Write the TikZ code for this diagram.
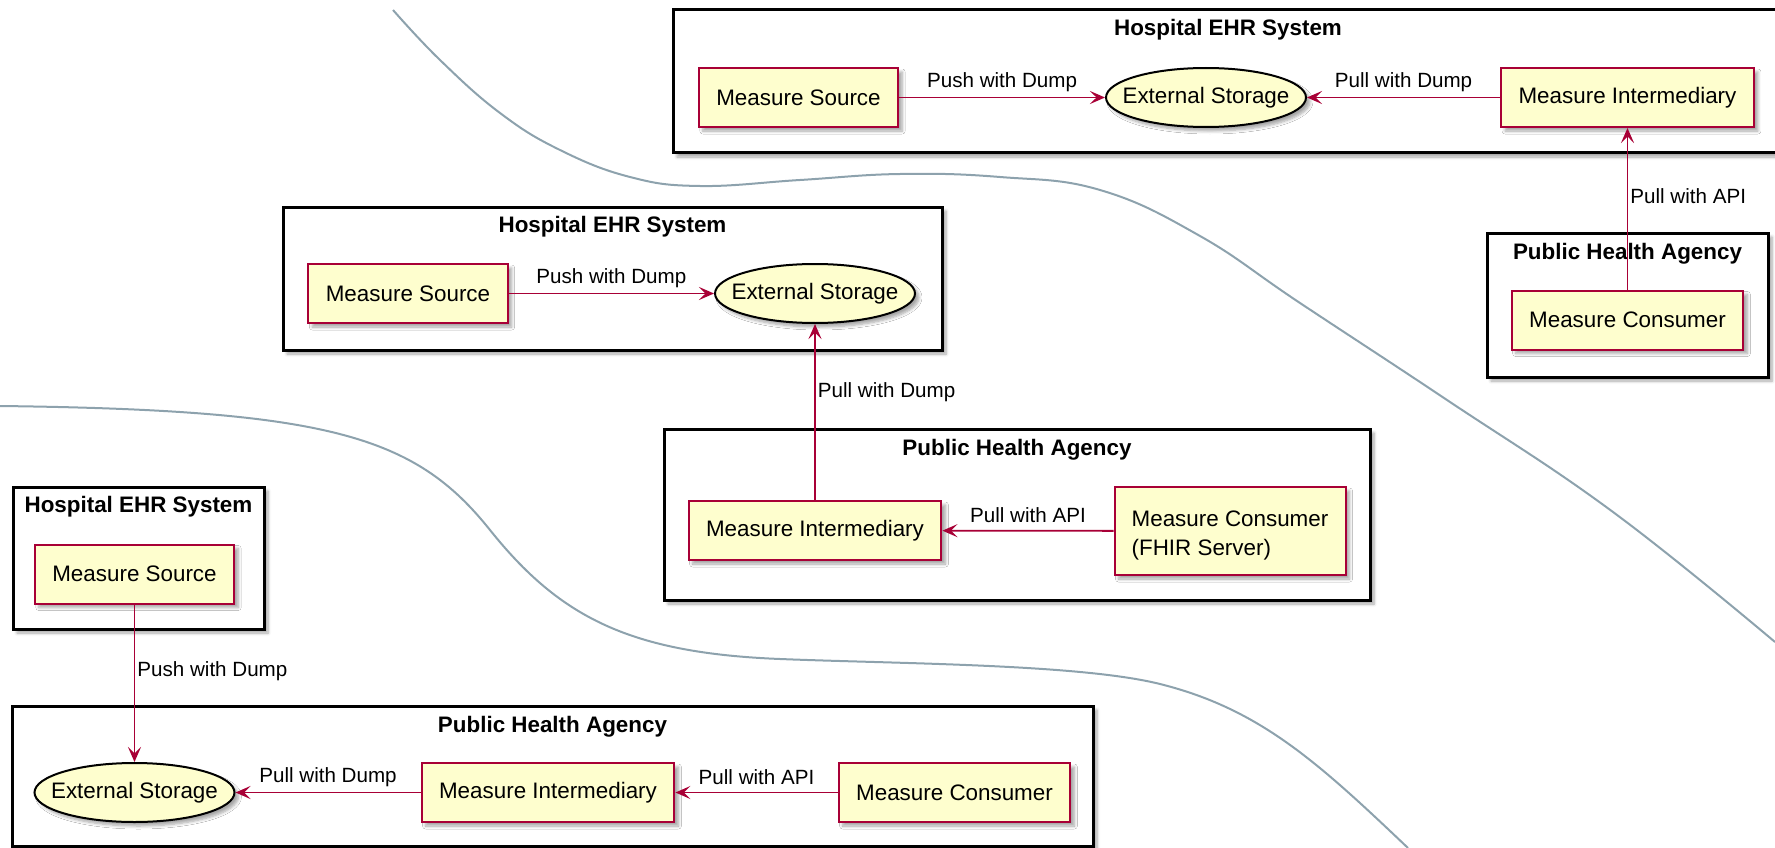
\documentclass[tikz,border=0pt]{standalone}
\usepackage{fontspec}
\setmainfont{Liberation Sans}
\usetikzlibrary{shapes.geometric,shadows,shadows.blur,arrows.meta}
\definecolor{pred}{HTML}{A80036}
\definecolor{pfill}{HTML}{FEFECE}
\definecolor{sepcol}{HTML}{8DA2AD}
\tikzset{
  shad/.style={blur shadow={shadow xshift=4pt, shadow yshift=-4pt, shadow blur steps=6, shadow blur radius=3pt, shadow opacity=35}},
  comp/.style={rectangle, draw=pred, fill=pfill, line width=2pt, minimum height=59pt,
    inner xsep=17.5pt, inner ysep=0pt, text=black, font=\fontsize{22.4}{29}\selectfont, shad},
  stor/.style={ellipse, draw=black, fill=pfill, line width=2pt, minimum width=200pt,
    minimum height=59pt, inner sep=0pt, font=\fontsize{22.4}{29}\selectfont, shad},
  pkg/.style={rectangle, draw=black, fill=white, line width=3pt, inner sep=0pt, shad},
  ftitle/.style={font=\bfseries\fontsize{22.4}{27}\selectfont, inner sep=0pt},
  ctext/.style={font=\fontsize{22.4}{29}\selectfont, inner sep=0pt, align=left, text=black},
  arr/.style={draw=pred, line width=1.8pt, -{Stealth[length=15pt,width=13pt,inset=6.5pt]}},
  lab/.style={font=\fontsize{20.6}{25}\selectfont, inner sep=0pt, text=black},
  divider/.style={draw=sepcol, line width=2pt},
}
\begin{document}
\begin{tikzpicture}[x=1pt,y=-1pt]
\useasboundingbox (0,0) rectangle (1775,848);
% separator curves
\draw[divider] plot[smooth, tension=0.7] coordinates {(393,10) (440,60) (500,113) (560,150) (630,177) (700,186) (800,180) (900,174) (1000,177) (1100,190) (1200,236) (1300,303) (1447,400) (1613,512) (1775,642)};
\draw[divider] (0,406) .. controls (330,410) and (415,436) .. (490,530)
  .. controls (560,617.5) and (630,653) .. (780,659)
  .. controls (900,663.8) and (1080,664) .. (1160,684)
  .. controls (1260,709) and (1318,762.5) .. (1408,848);

% frames
\node[pkg, minimum width=1110pt, minimum height=143pt] (f1) at (1228,81.5) {};
\node[pkg, minimum width=281pt, minimum height=144pt] (f2) at (1627.5,305) {};
\node[pkg, minimum width=659pt, minimum height=143pt] (f3) at (612.5,278.5) {};
\node[pkg, minimum width=706pt, minimum height=171pt] (f4) at (1017,514.5) {};
\node[pkg, minimum width=251pt, minimum height=142pt] (f5) at (138.5,558) {};
\node[pkg, minimum width=1081pt, minimum height=140pt] (f6) at (552.5,776) {};

\node[ftitle] (t1) at ([yshift=-21.5pt]f1.north) {Hospital EHR System};
\node[ftitle] (t2) at ([yshift=-22pt]f2.north) {Public Health Agency};
\node[ftitle] (t3) at ([yshift=-21.5pt]f3.north) {Hospital EHR System};
\node[ftitle] (t4) at ([yshift=-22pt]f4.north) {Public Health Agency};
\node[ftitle] (t5) at ([yshift=-21.5pt]f5.north) {Hospital EHR System};
\node[ftitle] (t6) at ([yshift=-22pt]f6.north) {Public Health Agency};

% top scenario
\node[comp] (ms1) at (798.5,97.5) {Measure Source};
\node[stor] (es1) at (1206,97.5) {\makebox[0pt]{External Storage}};
\node[comp] (mi1) at (1627.5,97.5) {Measure Intermediary};
\node[comp] (mc1) at (1627.5,320) {Measure Consumer};

% middle scenario
\node[comp] (ms2) at (408,293.5) {Measure Source};
\node[stor] (es2) at (815,293.5) {\makebox[0pt]{External Storage}};
\node[comp] (mi2) at (815,530.5) {Measure Intermediary};
\node[comp, minimum width=231pt, minimum height=88pt] (mc2) at (1230,531) {};
\node[ctext] (mc2t) at ([yshift=-4pt]mc2.center) {Measure Consumer\\(FHIR Server)};

% bottom scenario
\node[comp] (ms3) at (134.5,574) {Measure Source};
\node[stor] (es3) at (134.5,792.5) {\makebox[0pt]{External Storage}};
\node[comp] (mi3) at (548,792.5) {Measure Intermediary};
\node[comp] (mc3) at (954.5,792.5) {Measure Consumer};

% connectors
\draw[arr] (ms1) -- (es1) node[lab, midway, yshift=15.5pt] {Push with Dump};
\draw[arr] (mi1) -- (es1) node[lab, midway, yshift=15.5pt] {Pull with Dump};
\draw[arr] (mc1) -- (mi1) node[lab, pos=0.58, anchor=west, xshift=2pt] {Pull with API};

\draw[arr] (ms2) -- (es2) node[lab, midway, yshift=15.5pt] {Push with Dump};
\draw[arr] (mi2) -- (es2) node[lab, pos=0.61, anchor=west, xshift=2pt] {Pull with Dump};
\draw[arr] (mc2) -- (mi2) node[lab, midway, yshift=15.5pt] {Pull with API};

\draw[arr] (ms3) -- (es3) node[lab, pos=0.425, anchor=west, xshift=2pt] {Push with Dump};
\draw[arr] (mi3) -- (es3) node[lab, midway, yshift=15.5pt] {Pull with Dump};
\draw[arr] (mc3) -- (mi3) node[lab, midway, yshift=15.5pt] {Pull with API};
\end{tikzpicture}
\end{document}
